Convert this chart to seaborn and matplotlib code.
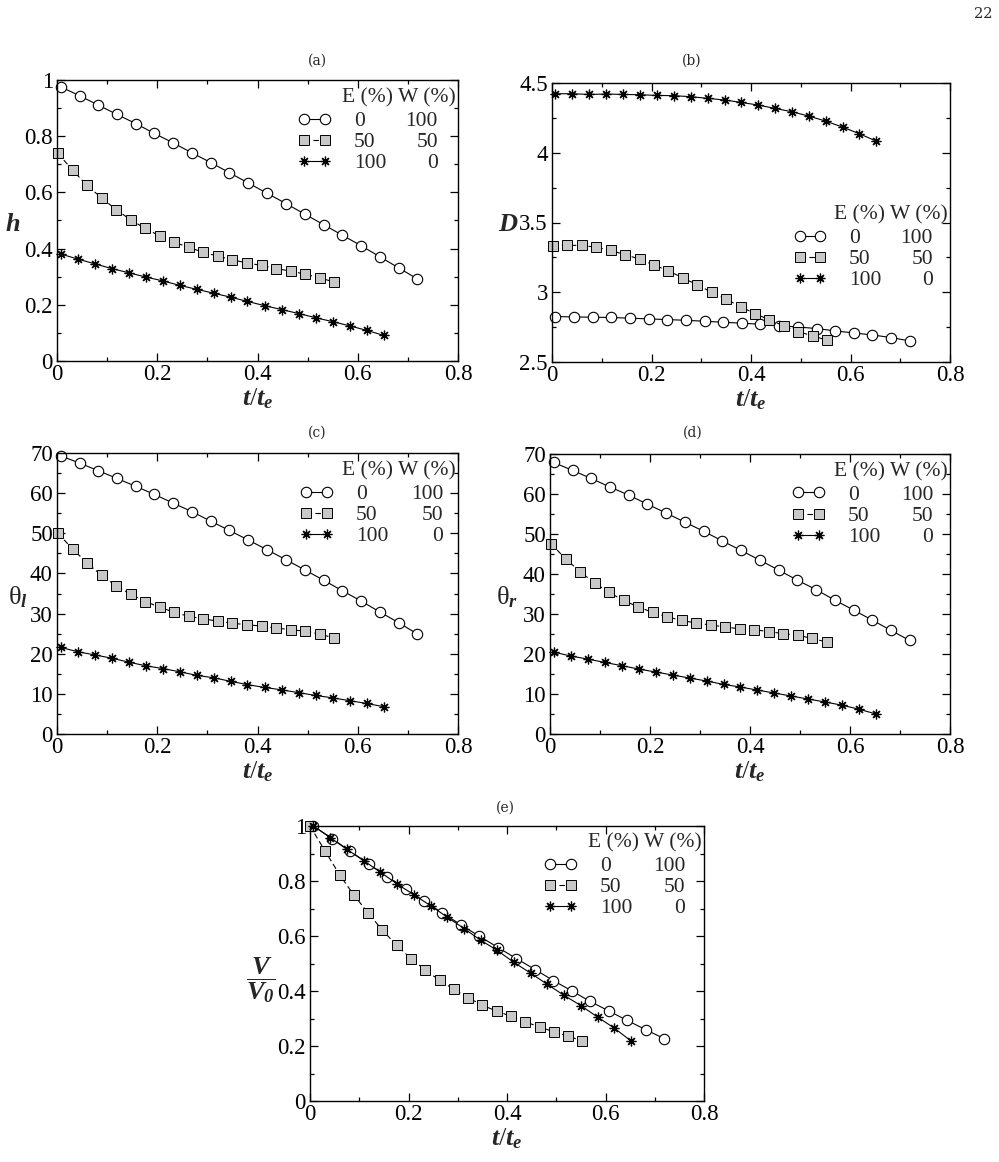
import matplotlib
matplotlib.use('Agg')
import matplotlib.pyplot as plt
import seaborn as sns
from matplotlib.ticker import MultipleLocator, FuncFormatter

sns.set_style('ticks')
plt.rcParams['font.family'] = ['Liberation Serif', 'DejaVu Serif']
plt.rcParams['mathtext.fontset'] = 'custom'
plt.rcParams['mathtext.it'] = 'Liberation Serif:italic:bold'
plt.rcParams['mathtext.rm'] = 'Liberation Serif'
plt.rcParams['mathtext.bf'] = 'Liberation Serif:italic:bold'

# ---------------- data ----------------
E_labels = ['0', '50', '100']
W_labels = ['100', '50', '0']

t_w100 = [0.007, 0.045, 0.082, 0.119, 0.157, 0.194, 0.232, 0.269, 0.307, 0.344,
          0.382, 0.419, 0.457, 0.494, 0.532, 0.569, 0.607, 0.644, 0.682, 0.719]
t_w50 = [0.002, 0.031, 0.060, 0.089, 0.118, 0.147, 0.176, 0.205, 0.234, 0.263,
         0.292, 0.321, 0.350, 0.379, 0.408, 0.437, 0.466, 0.495, 0.524, 0.553]
t_w0 = [0.007, 0.041, 0.075, 0.109, 0.143, 0.177, 0.211, 0.245, 0.279, 0.313,
        0.347, 0.380, 0.414, 0.448, 0.482, 0.516, 0.550, 0.584, 0.618, 0.652]

h_w100 = [0.976, 0.944, 0.911, 0.878, 0.845, 0.810, 0.776, 0.741, 0.706, 0.670,
          0.633, 0.597, 0.560, 0.523, 0.485, 0.448, 0.410, 0.371, 0.331, 0.292]
h_w50 = [0.739, 0.679, 0.625, 0.580, 0.539, 0.502, 0.472, 0.445, 0.423, 0.404,
         0.387, 0.373, 0.360, 0.349, 0.340, 0.329, 0.320, 0.309, 0.296, 0.281]
h_w0 = [0.381, 0.363, 0.346, 0.329, 0.314, 0.299, 0.285, 0.269, 0.255, 0.241,
        0.227, 0.212, 0.197, 0.183, 0.169, 0.154, 0.140, 0.125, 0.109, 0.091]

D_w100 = [2.826, 2.823, 2.821, 2.819, 2.814, 2.809, 2.804, 2.799, 2.792, 2.785,
          2.778, 2.771, 2.761, 2.751, 2.740, 2.723, 2.708, 2.694, 2.675, 2.651]
D_w50 = [3.334, 3.336, 3.336, 3.322, 3.300, 3.269, 3.238, 3.195, 3.154, 3.102,
         3.054, 2.999, 2.951, 2.896, 2.847, 2.802, 2.759, 2.718, 2.687, 2.656]
D_w0 = [4.423, 4.423, 4.418, 4.421, 4.418, 4.416, 4.411, 4.409, 4.402, 4.390,
        4.378, 4.361, 4.342, 4.318, 4.294, 4.263, 4.227, 4.184, 4.136, 4.083]

thl_w100 = [69.3, 67.5, 65.6, 63.7, 61.7, 59.7, 57.5, 55.4, 53.0, 50.7,
            48.3, 45.9, 43.4, 40.9, 38.3, 35.7, 33.1, 30.4, 27.7, 24.9]
thl_w50 = [50.0, 46.1, 42.6, 39.5, 36.9, 34.8, 33.0, 31.6, 30.3, 29.3,
           28.7, 28.1, 27.6, 27.2, 26.9, 26.4, 26.0, 25.6, 24.9, 23.9]
thl_w0 = [21.6, 20.5, 19.7, 18.9, 17.9, 17.0, 16.3, 15.5, 14.6, 14.0,
          13.1, 12.3, 11.6, 11.0, 10.3, 9.6, 9.0, 8.3, 7.6, 6.8]

thr_w100 = [67.9, 65.9, 63.9, 61.8, 59.75, 57.5, 55.25, 53.0, 50.7, 48.3,
            45.9, 43.5, 41.0, 38.5, 36.1, 33.5, 31.0, 28.5, 25.9, 23.4]
thr_w50 = [47.6, 43.8, 40.6, 37.75, 35.4, 33.4, 31.8, 30.4, 29.3, 28.4,
           27.75, 27.25, 26.75, 26.3, 26.1, 25.6, 25.1, 24.7, 23.9, 23.0]
thr_w0 = [20.5, 19.5, 18.75, 17.9, 17.1, 16.25, 15.5, 14.75, 14.0, 13.25,
          12.4, 11.75, 11.0, 10.25, 9.5, 8.75, 8.0, 7.2, 6.2, 5.0]

V_w100 = [1.0, 0.954, 0.908, 0.862, 0.816, 0.772, 0.727, 0.684, 0.640, 0.599,
          0.558, 0.518, 0.478, 0.438, 0.400, 0.362, 0.327, 0.293, 0.259, 0.227]
V_w50 = [1.0, 0.908, 0.823, 0.749, 0.684, 0.621, 0.566, 0.518, 0.476, 0.439,
         0.406, 0.376, 0.348, 0.327, 0.308, 0.288, 0.269, 0.252, 0.236, 0.218]
V_w0 = [1.0, 0.958, 0.915, 0.874, 0.832, 0.789, 0.750, 0.710, 0.668, 0.627,
        0.584, 0.548, 0.504, 0.465, 0.424, 0.384, 0.347, 0.305, 0.265, 0.218]
t_w50_e = [0.0, 0.031, 0.060, 0.089, 0.118, 0.147, 0.176, 0.205, 0.234, 0.263,
           0.292, 0.321, 0.350, 0.379, 0.408, 0.437, 0.466, 0.495, 0.524, 0.553]

# ---------------- figure ----------------
FW, FH = 999, 1162
fig = plt.figure(figsize=(FW / 100, FH / 100), dpi=100)


def px_axes(l, t, r, b):
    return fig.add_axes([l / FW, 1 - b / FH, (r - l) / FW, (b - t) / FH])


fmt = FuncFormatter(lambda v, p: '%g' % round(v, 6))
TICK_FS = 16.5
LEG_FS = 15.5
LAB_FS = 19


def style_axes(ax, ylim, ymaj, ymin):
    ax.set_xlim(0, 0.8)
    ax.set_ylim(*ylim)
    ax.xaxis.set_major_locator(MultipleLocator(0.2))
    ax.xaxis.set_minor_locator(MultipleLocator(0.1))
    ax.yaxis.set_major_locator(MultipleLocator(ymaj))
    ax.yaxis.set_minor_locator(MultipleLocator(ymin))
    ax.xaxis.set_major_formatter(fmt)
    ax.yaxis.set_major_formatter(fmt)
    ax.tick_params(which='both', direction='in', top=True, right=True,
                   width=0.9, colors='black', labelsize=TICK_FS)
    ax.tick_params(which='major', length=5.5)
    ax.tick_params(which='minor', length=2.6)
    ax.tick_params(axis='x', pad=2)
    ax.tick_params(axis='y', pad=3)
    for s in ax.spines.values():
        s.set_visible(True)
        s.set_linewidth(1.0)
        s.set_color('black')
    ax.set_facecolor('white')


def draw_series(ax, t1, y1, t2, y2, t3, y3):
    common = dict(ax=ax, color='black', linewidth=0.8, legend=False,
                  sort=False, errorbar=None, clip_on=False)
    sns.lineplot(x=t1, y=y1, marker='o', markersize=7.5, markerfacecolor='white',
                 markeredgecolor='black', markeredgewidth=0.8, **common)
    l1 = ax.lines[-1]
    sns.lineplot(x=t2, y=y2, marker='s', markersize=7, markerfacecolor='#c8c8c8',
                 markeredgecolor='black', markeredgewidth=0.7, **common)
    l2 = ax.lines[-1]
    l2.set_dashes((5, 3))
    sns.lineplot(x=t3, y=y3, marker=(8, 2, 0), markersize=7,
                 markeredgecolor='black', markeredgewidth=0.9, **common)
    l3 = ax.lines[-1]
    return [l1, l2, l3]


legends = []


def add_legend(ax, lines, header_y, handle_x, wright_x):
    ax_h = ax.get_position().height * FH
    ax.text(0.995, header_y, 'E (%) W (%)', transform=ax.transAxes,
            ha='right', va='center', fontsize=LEG_FS)
    leg = ax.legend(lines, E_labels, loc='upper left',
                    bbox_to_anchor=(handle_x, header_y - 13 / ax_h),
                    bbox_transform=ax.transAxes, frameon=False, fontsize=LEG_FS,
                    numpoints=2, handlelength=1.55, handletextpad=1.05,
                    labelspacing=0.05, borderpad=0, borderaxespad=0)
    legends.append((ax, leg, wright_x))


def set_labels(ax, ylabel, ylx, yly, xly):
    ax.set_xlabel(r'$t/t_e$', fontsize=LAB_FS)
    ax.xaxis.set_label_coords(0.5, xly)
    ax.set_ylabel(ylabel, fontsize=LAB_FS, rotation=0, ha='center', va='center')
    ax.yaxis.set_label_coords(ylx, yly)


# (a)
axa = px_axes(57, 80, 458, 361)
style_axes(axa, (0, 1), 0.2, 0.1)
la = draw_series(axa, t_w100, h_w100, t_w50, h_w50, t_w0, h_w0)
add_legend(axa, la, 0.936, 0.601, 0.950)
set_labels(axa, r'$h$', -0.110, 0.484, -0.092)

# (b)
axb = px_axes(552, 83, 950, 362)
style_axes(axb, (2.5, 4.5), 0.5, 0.25)
lb = draw_series(axb, t_w100, D_w100, t_w50, D_w50, t_w0, D_w0)
add_legend(axb, lb, 0.527, 0.606, 0.957)
set_labels(axb, r'$D$', -0.111, 0.491, -0.092)

# (c)
axc = px_axes(57, 453, 458, 734)
style_axes(axc, (0, 70), 10, 5)
lc = draw_series(axc, t_w100, thl_w100, t_w50, thl_w50, t_w0, thl_w0)
add_legend(axc, lc, 0.936, 0.606, 0.963)
set_labels(axc, r'$\mathrm{θ}_{l}$', -0.097, 0.488, -0.092)

# (d)
axd = px_axes(550, 454, 950, 734)
style_axes(axd, (0, 70), 10, 5)
ld = draw_series(axd, t_w100, thr_w100, t_w50, thr_w50, t_w0, thr_w0)
add_legend(axd, ld, 0.936, 0.605, 0.958)
set_labels(axd, r'$\mathrm{θ}_{r}$', -0.107, 0.489, -0.092)

# (e)
axe = px_axes(310, 826, 704, 1101)
style_axes(axe, (0, 1), 0.2, 0.1)
le = draw_series(axe, t_w100, V_w100, t_w50_e, V_w50, t_w0, V_w0)
add_legend(axe, le, 0.938, 0.594, 0.952)
set_labels(axe, r'$\dfrac{V}{V_\mathbf{0}}$', -0.125, 0.44, -0.092)

# panel titles and page number
for lab, x, y in [('(a)', 317, 61), ('(b)', 692, 61), ('(c)', 317, 433),
                  ('(d)', 693, 433), ('(e)', 505, 808)]:
    fig.text(x / FW, 1 - y / FH, lab, ha='center', va='center', fontsize=10,
             family=['DejaVu Serif'])
fig.text(983 / FW, 1 - 14 / FH, '22', ha='center', va='center', fontsize=10.5,
         family=['DejaVu Serif'])

# W column aligned with legend rows
fig.canvas.draw()
for ax, leg, wx in legends:
    inv = ax.transAxes.inverted()
    for txt, wl in zip(leg.get_texts(), W_labels):
        bb = txt.get_window_extent()
        yc = inv.transform((0, (bb.y0 + bb.y1) / 2))[1]
        ax.text(wx, yc, wl, transform=ax.transAxes, ha='right', va='center',
                fontsize=LEG_FS)

fig.savefig('out.png', dpi=100, facecolor='white')
